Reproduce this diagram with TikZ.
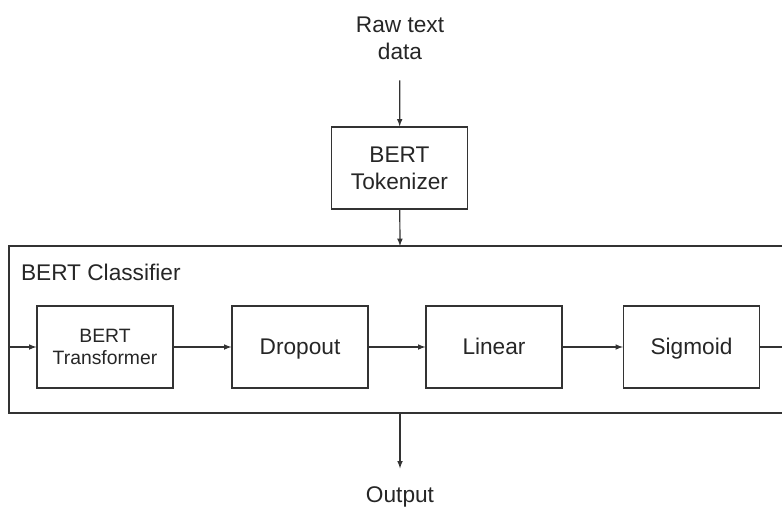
\documentclass[tikz,border=0pt]{standalone}
\usepackage{fontspec}
\setmainfont{Liberation Sans}
\usetikzlibrary{arrows}

\begin{document}
\begin{tikzpicture}[x=0.75pt, y=-0.75pt, line width=0.9pt, draw=black!80, text=black!85, >=latex]
      \tikzstyle{every node}=[font=\fontsize{17}{20}\selectfont, align=center]
      \tikzstyle{block}=[draw, minimum width=102pt, minimum height=61.5pt, inner sep=2pt]
      \tikzstyle{oneline}=[block, text height=14pt, text depth=3pt]
      \useasboundingbox (0,0) rectangle (782,511);
      % input and tokenizer
      \node at (400,38) (raw) {Raw text\\data};
      \node[block] at (399.5,168) (tok) {BERT\\Tokenizer};
      % classifier frame (runs off the right edge)
      \draw (782,246) -| (9,413) -- (782,413);
      \coordinate (clsin) at (9,347);
      \coordinate (clstop) at (400,246);
      \coordinate (clsbot) at (400,413);
      \coordinate (clsout) at (782,347);
      \node[anchor=west] at (16,272) (cls) {BERT Classifier};
      % layers
      \node[block, font=\fontsize{14.5}{17}\selectfont] at (105,347) (trans) {BERT\\Transformer};
      \node[oneline] at (300,347) (drop) {Dropout};
      \node[oneline] at (494,347) (lin) {Linear};
      \node[oneline] at (691.5,347) (sig) {Sigmoid};
      \node at (400,497) (out) {Output};
      \path[->] (raw)    edge[shorten <=12pt] (tok)
                (tok)    edge (clstop)
                (clsin)  edge (trans)
                (trans)  edge (drop)
                (drop)   edge (lin)
                (lin)    edge (sig)
                (clsbot) edge[shorten >=10pt] (out);
      \draw (sig) -- (clsout);
\end{tikzpicture}
\end{document}
